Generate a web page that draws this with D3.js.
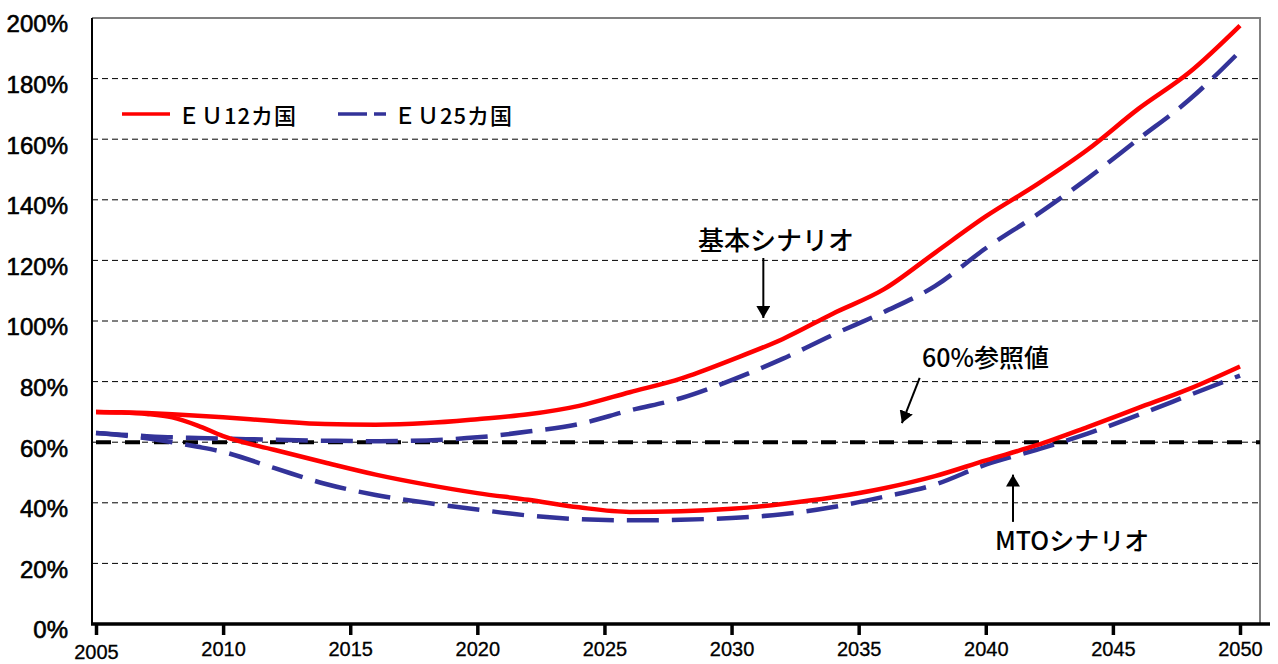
<!DOCTYPE html>
<html>
<head>
<meta charset="utf-8">
<script src="https://cdn.jsdelivr.net/npm/d3@7"></script>
<style>
  body { margin: 0; background: #fff; }
  svg { display: block; }
</style>
</head>
<body>
<svg id="chart" width="1278" height="664"></svg>
<script>
// Debt-to-GDP projections (%), 2005–2050
const years    = [2005, 2006, 2007, 2008, 2009, 2010, 2012, 2014, 2016, 2018, 2020, 2022, 2024, 2026, 2028, 2030, 2032, 2034, 2036, 2038, 2040, 2042, 2044, 2046, 2048, 2050];
const eu12Base = [70, 69.9, 69.6, 69.2, 68.7, 68.2, 67.0, 66.0, 65.8, 66.3, 67.6, 69.2, 72.0, 76.5, 81.0, 87.2, 94.0, 102.5, 110.5, 122.5, 134.5, 145.0, 156.5, 170.0, 182.0, 197.5];
const eu25Base = [63, 62.5, 62.0, 61.6, 61.4, 61.2, 60.8, 60.5, 60.3, 60.6, 61.6, 63.5, 66.0, 70.5, 74.5, 80.5, 87.5, 95.5, 103.0, 111.5, 124.0, 135.0, 147.0, 160.0, 173.0, 189.0];
const eu12Mto  = [70, 69.8, 69.3, 68.2, 65.5, 62.0, 57.5, 53.3, 49.3, 46.0, 43.2, 41.0, 38.5, 37.0, 37.2, 38.0, 39.6, 41.8, 44.8, 48.8, 54.0, 59.0, 65.0, 71.3, 77.6, 85.0];
const eu25Mto  = [63, 62.3, 61.3, 60.0, 58.5, 56.8, 51.5, 46.3, 42.6, 40.0, 37.8, 35.8, 34.6, 34.2, 34.4, 35.0, 36.2, 38.6, 42.0, 46.0, 52.6, 57.5, 62.8, 69.0, 75.5, 82.0];

const yTicks = [0, 20, 40, 60, 80, 100, 120, 140, 160, 180, 200];
const xTicks = [2005, 2010, 2015, 2020, 2025, 2030, 2035, 2040, 2045, 2050];
const legendLabels = ["ＥＵ12カ国", "ＥＵ25カ国"];
const referenceLevel = 60;
const noteBase = "基本シナリオ";
const noteRef  = "60%参照値";
const noteMto  = "MTOシナリオ";

const RED = "#ff0000";
const BLUE = "#333399";

const svg = d3.select("#chart");

// plot frame
const frame = { left: 92, right: 1260, top: 18, bottom: 624, axisEnd: 1270 };

const x = d3.scaleLinear().domain([2005, 2050]).range([96, 1240]);
const y = d3.scaleLinear().domain([0, 200]).range([frame.bottom, frame.top]);

// dashed horizontal gridlines
svg.append("g")
  .selectAll("line")
  .data(yTicks.filter(v => v > 0 && v < 200))
  .join("line")
  .attr("x1", frame.left).attr("x2", frame.right)
  .attr("y1", d => y(d)).attr("y2", d => y(d))
  .attr("stroke", "#000").attr("stroke-width", 1)
  .attr("stroke-dasharray", "6,4");

// top and right border
svg.append("path")
  .attr("d", `M${frame.left},${frame.top}H${frame.right}V${frame.bottom}`)
  .attr("fill", "none").attr("stroke", "#808080").attr("stroke-width", 2);

// left axis line
svg.append("line")
  .attr("x1", frame.left).attr("x2", frame.left)
  .attr("y1", frame.top).attr("y2", frame.bottom)
  .attr("stroke", "#000").attr("stroke-width", 2);

// y tick labels
const yAxis = svg.append("g")
  .attr("transform", `translate(${frame.left},0)`)
  .call(d3.axisLeft(y).tickValues(yTicks).tickSize(0).tickPadding(24).tickFormat(d => d + "%"));
yAxis.select(".domain").remove();
yAxis.selectAll("text")
  .attr("font-family", "'Liberation Sans', Arial, sans-serif")
  .attr("font-size", 24)
  .attr("fill", "#000")
  .attr("stroke", "#000")
  .attr("stroke-width", 0.6)
  .attr("dy", "0.58em");

// 60% reference line
svg.append("line")
  .attr("x1", frame.left + 4).attr("x2", frame.right)
  .attr("y1", y(referenceLevel)).attr("y2", y(referenceLevel))
  .attr("stroke", "#000").attr("stroke-width", 4)
  .attr("stroke-dasharray", "15,14");

// series lines
const line = d3.line()
  .x((d, i) => x(years[i]))
  .y(d => y(d))
  .curve(d3.curveMonotoneX);

const series = [
  { values: eu25Base, color: BLUE, dash: "32,13" },
  { values: eu25Mto,  color: BLUE, dash: "32,13" },
  { values: eu12Base, color: RED,  dash: null },
  { values: eu12Mto,  color: RED,  dash: null }
];

svg.append("g")
  .selectAll("path")
  .data(series)
  .join("path")
  .attr("d", d => line(d.values))
  .attr("fill", "none")
  .attr("stroke", d => d.color)
  .attr("stroke-width", 4.5)
  .attr("stroke-dasharray", d => d.dash);

// bottom axis
const xAxis = svg.append("g")
  .attr("transform", `translate(0,${frame.bottom})`)
  .call(d3.axisBottom(x).tickValues(xTicks).tickSize(11).tickPadding(7).tickFormat(d3.format("d")));
xAxis.select(".domain").remove();
xAxis.selectAll(".tick line").attr("stroke", "#000").attr("stroke-width", 3.5);
xAxis.selectAll("text")
  .attr("font-family", "'Liberation Sans', Arial, sans-serif")
  .attr("font-size", 20)
  .attr("fill", "#000")
  .attr("stroke", "#000")
  .attr("stroke-width", 0.3)
  .attr("dy", d => d === 2005 ? "0.86em" : "0.71em");
svg.append("line")
  .attr("x1", frame.left - 1).attr("x2", frame.axisEnd)
  .attr("y1", frame.bottom).attr("y2", frame.bottom)
  .attr("stroke", "#000").attr("stroke-width", 3.5);

// legend
const legend = svg.append("g");
const legendItems = [
  { label: legendLabels[0], color: RED,  dash: null,   x0: 122 },
  { label: legendLabels[1], color: BLUE, dash: "29,7", x0: 338 }
];
legendItems.forEach(it => {
  legend.append("line")
    .attr("x1", it.x0).attr("x2", it.x0 + 48)
    .attr("y1", 114).attr("y2", 114)
    .attr("stroke", it.color).attr("stroke-width", 3.5)
    .attr("stroke-dasharray", it.dash);
  legend.append("text")
    .attr("x", it.x0 + 56).attr("y", 124)
    .attr("font-family", "'Noto Sans CJK JP', sans-serif")
    .attr("font-size", 22)
    .attr("font-weight", 500)
    .attr("letter-spacing", 1)
    .attr("fill", "#000")
    .text(it.label);
});

// arrowhead
svg.append("defs").append("marker")
  .attr("id", "head")
  .attr("viewBox", "0 0 12 14")
  .attr("refX", 12).attr("refY", 7)
  .attr("markerWidth", 12).attr("markerHeight", 14)
  .attr("markerUnits", "userSpaceOnUse")
  .attr("orient", "auto")
  .append("path")
  .attr("d", "M0,0L12,7L0,14Z")
  .attr("fill", "#000");

const noteFont = "'Noto Sans CJK JP', sans-serif";
function arrow(x1, y1, x2, y2) {
  svg.append("line")
    .attr("x1", x1).attr("y1", y1).attr("x2", x2).attr("y2", y2)
    .attr("stroke", "#000").attr("stroke-width", 2)
    .attr("marker-end", "url(#head)");
}

// baseline scenario label
svg.append("text")
  .attr("x", 776).attr("y", 250)
  .attr("text-anchor", "middle")
  .attr("font-family", noteFont).attr("font-size", 26).attr("font-weight", 500)
  .text(noteBase);
arrow(x(2031.25), y(120.8), x(2031.25), y(101));

// 60% reference label
svg.append("text")
  .attr("x", 922).attr("y", 367)
  .attr("font-family", noteFont).attr("font-size", 25).attr("font-weight", 500)
  .text(noteRef);
arrow(x(2037.4), y(81.2), x(2036.7), y(66.3));

// MTO scenario label
svg.append("text")
  .attr("x", 995).attr("y", 550)
  .attr("font-family", noteFont).attr("font-size", 25).attr("font-weight", 500)
  .text(noteMto);
arrow(x(2041.07), y(33.7), x(2041.07), y(49.3));
</script>
</body>
</html>
